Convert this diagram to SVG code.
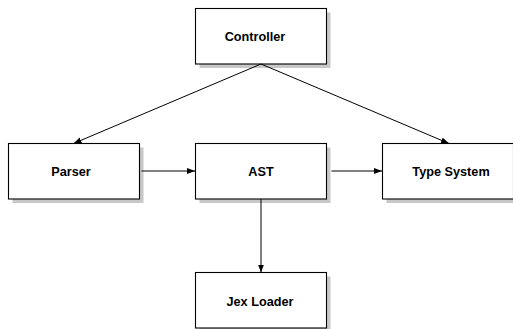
<svg xmlns="http://www.w3.org/2000/svg" width="513" height="329" viewBox="0 0 513 329">
<style>
.shadow{fill:#c8c8c8;stroke:none}
.box{fill:#ffffff;stroke:#000000;stroke-width:1.1}
.lbl{font-family:"Liberation Sans",Arial,sans-serif;font-weight:bold;font-size:12.7px;fill:#000000;text-anchor:middle}
.edge{fill:none;stroke:#000000;stroke-width:1}
</style>
<defs>
<marker id="arr" markerUnits="userSpaceOnUse" markerWidth="9" markerHeight="7" refX="8" refY="3" orient="auto">
<path d="M0,0 L8,3 L0,6 z" fill="#000000"/>
</marker>
</defs>
<rect width="513" height="329" fill="#ffffff"/>
<g id="controller">
<rect class="shadow" x="199.5" y="12.5" width="131" height="55.5"/>
<rect class="box" x="195.5" y="8.5" width="131" height="55.5"/>
<text class="lbl" x="255" y="41">Controller</text>
</g>
<g id="parser">
<rect class="shadow" x="12.5" y="147.5" width="131" height="55.5"/>
<rect class="box" x="8.5" y="143.5" width="131" height="55.5"/>
<text class="lbl" x="71" y="176">Parser</text>
</g>
<g id="ast">
<rect class="shadow" x="199.5" y="147.5" width="131" height="55.5"/>
<rect class="box" x="195.5" y="143.5" width="131" height="55.5"/>
<text class="lbl" x="261" y="176">AST</text>
</g>
<g id="type-system">
<rect class="shadow" x="386.5" y="147.5" width="131" height="55.5"/>
<rect class="box" x="382.5" y="143.5" width="131" height="55.5"/>
<text class="lbl" x="451" y="176">Type System</text>
</g>
<g id="jex-loader">
<rect class="shadow" x="199.5" y="276.5" width="131" height="55.5"/>
<rect class="box" x="195.5" y="272.5" width="131" height="55.5"/>
<text class="lbl" x="260" y="306">Jex Loader</text>
</g>
<g id="connectors">
<line class="edge" x1="261" y1="64" x2="73.5" y2="143.5" marker-end="url(#arr)"/>
<line class="edge" x1="261" y1="64" x2="449" y2="143.5" marker-end="url(#arr)"/>
<line class="edge" x1="141.5" y1="171" x2="195" y2="171" marker-end="url(#arr)"/>
<line class="edge" x1="331.5" y1="171" x2="382" y2="171" marker-end="url(#arr)"/>
<line class="edge" x1="261" y1="199" x2="261" y2="272.5" marker-end="url(#arr)"/>
</g>
</svg>
